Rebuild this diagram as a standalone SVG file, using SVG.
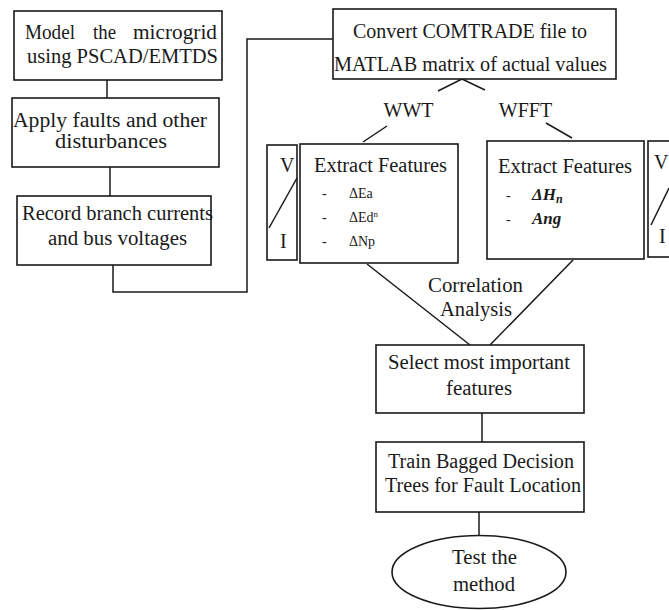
<svg xmlns="http://www.w3.org/2000/svg" width="669" height="610" viewBox="0 0 669 610">
  <style>
    .box { fill: #ffffff; stroke: #1a1a1a; stroke-width: 1.6; }
    .ln { fill: none; stroke: #1a1a1a; stroke-width: 1.5; }
    .t { font-family: "Liberation Serif", "Times New Roman", serif; font-size: 20px; fill: #1a1a1a; }
    .s { font-family: "Liberation Serif", "Times New Roman", serif; font-size: 14px; fill: #1a1a1a; }
    .m { font-family: "Liberation Serif", "Times New Roman", serif; font-size: 17px; font-weight: bold; font-style: italic; fill: #1a1a1a; }
  </style>
  <rect width="669" height="610" fill="#ffffff"/>

  <!-- connectors -->
  <g id="connectors">
    <line class="ln" x1="107" y1="80" x2="107" y2="98"/>
    <line class="ln" x1="110" y1="167" x2="110" y2="196"/>
    <polyline class="ln" points="113,265 113,292 247,292 247,39 333,39"/>
    <line class="ln" x1="462" y1="79" x2="438" y2="91"/>
    <line class="ln" x1="462" y1="79" x2="485" y2="90"/>
    <line class="ln" x1="387" y1="126" x2="363" y2="142"/>
    <line class="ln" x1="546" y1="123" x2="572" y2="138"/>
    <line class="ln" x1="367" y1="264" x2="470" y2="345"/>
    <line class="ln" x1="573" y1="260" x2="490" y2="345"/>
    <line class="ln" x1="482" y1="413" x2="482" y2="442"/>
    <line class="ln" x1="479" y1="512" x2="479" y2="535"/>
    <text class="t" x="408.5" y="117" text-anchor="middle">WWT</text>
    <text class="t" x="525.5" y="117" text-anchor="middle">WFFT</text>
    <text class="t" x="475.5" y="292" text-anchor="middle" textLength="95" lengthAdjust="spacingAndGlyphs">Correlation</text>
    <text class="t" x="476" y="316" text-anchor="middle" textLength="72" lengthAdjust="spacingAndGlyphs">Analysis</text>
  </g>

  <g id="model">
    <rect class="box" x="14" y="11" width="208" height="69"/>
    <text class="t" x="25" y="39" textLength="50" lengthAdjust="spacingAndGlyphs">Model</text>
    <text class="t" x="93" y="39" textLength="23" lengthAdjust="spacingAndGlyphs">the</text>
    <text class="t" x="133" y="39" textLength="84" lengthAdjust="spacingAndGlyphs">microgrid</text>
    <text class="t" x="27" y="63" textLength="191" lengthAdjust="spacingAndGlyphs">using PSCAD/EMTDS</text>
  </g>

  <g id="faults">
    <rect class="box" x="12" y="98" width="207" height="69"/>
    <text class="t" x="13" y="127" textLength="194" lengthAdjust="spacingAndGlyphs">Apply faults and other</text>
    <text class="t" x="111" y="148" text-anchor="middle" textLength="112" lengthAdjust="spacingAndGlyphs">disturbances</text>
  </g>

  <g id="record">
    <rect class="box" x="17" y="196" width="194" height="69"/>
    <text class="t" x="22" y="220" textLength="191" lengthAdjust="spacingAndGlyphs">Record branch currents</text>
    <text class="t" x="48" y="245" textLength="139" lengthAdjust="spacingAndGlyphs">and bus voltages</text>
  </g>

  <g id="convert">
    <rect class="box" x="333" y="9" width="283" height="70"/>
    <text class="t" x="353" y="38" textLength="234" lengthAdjust="spacingAndGlyphs">Convert COMTRADE file to</text>
    <text class="t" x="334" y="71" textLength="273" lengthAdjust="spacingAndGlyphs">MATLAB matrix of actual values</text>
  </g>

  <g id="vi-left">
    <rect class="box" x="267" y="145" width="30" height="115"/>
    <line class="ln" x1="297" y1="178" x2="269" y2="228"/>
    <text class="t" x="280" y="172">V</text>
    <text class="t" x="280" y="248">I</text>
  </g>

  <g id="wwt-features">
    <rect class="box" x="300" y="144" width="158" height="119"/>
    <text class="t" x="314" y="172" textLength="133" lengthAdjust="spacingAndGlyphs">Extract Features</text>
    <text class="s" x="322" y="198">-</text>
    <text class="s" x="349" y="198">ΔEa</text>
    <text class="s" x="322" y="222">-</text>
    <text class="s" x="349" y="222">ΔEd<tspan font-size="9" dy="-5">n</tspan></text>
    <text class="s" x="322" y="246">-</text>
    <text class="s" x="349" y="246">ΔNp</text>
  </g>

  <g id="wfft-features">
    <rect class="box" x="487" y="141" width="157" height="118"/>
    <text class="t" x="498" y="173" textLength="134" lengthAdjust="spacingAndGlyphs">Extract Features</text>
    <text class="s" x="506" y="200">-</text>
    <text class="m" x="532" y="200">Δ<tspan>H</tspan><tspan font-size="12" dy="3">n</tspan></text>
    <text class="s" x="506" y="224">-</text>
    <text class="m" x="532" y="224">Ang</text>
  </g>

  <g id="vi-right">
    <rect class="box" x="648" y="141" width="30" height="116"/>
    <line class="ln" x1="669" y1="188" x2="651" y2="225"/>
    <text class="t" x="654" y="169">V</text>
    <text class="t" x="659" y="243">I</text>
  </g>

  <g id="select">
    <rect class="box" x="376" y="345" width="208" height="68"/>
    <text class="t" x="388" y="369" textLength="182" lengthAdjust="spacingAndGlyphs">Select most important</text>
    <text class="t" x="479" y="395" text-anchor="middle" textLength="66" lengthAdjust="spacingAndGlyphs">features</text>
  </g>

  <g id="train">
    <rect class="box" x="376" y="442" width="208" height="70"/>
    <text class="t" x="388" y="468" textLength="186" lengthAdjust="spacingAndGlyphs">Train Bagged Decision</text>
    <text class="t" x="385" y="492" textLength="196" lengthAdjust="spacingAndGlyphs">Trees for Fault Location</text>
  </g>

  <g id="test">
    <ellipse class="box" cx="479" cy="572" rx="87" ry="36.5"/>
    <text class="t" x="484.5" y="564" text-anchor="middle" textLength="65" lengthAdjust="spacingAndGlyphs">Test the</text>
    <text class="t" x="484" y="591" text-anchor="middle" textLength="62" lengthAdjust="spacingAndGlyphs">method</text>
  </g>
</svg>
